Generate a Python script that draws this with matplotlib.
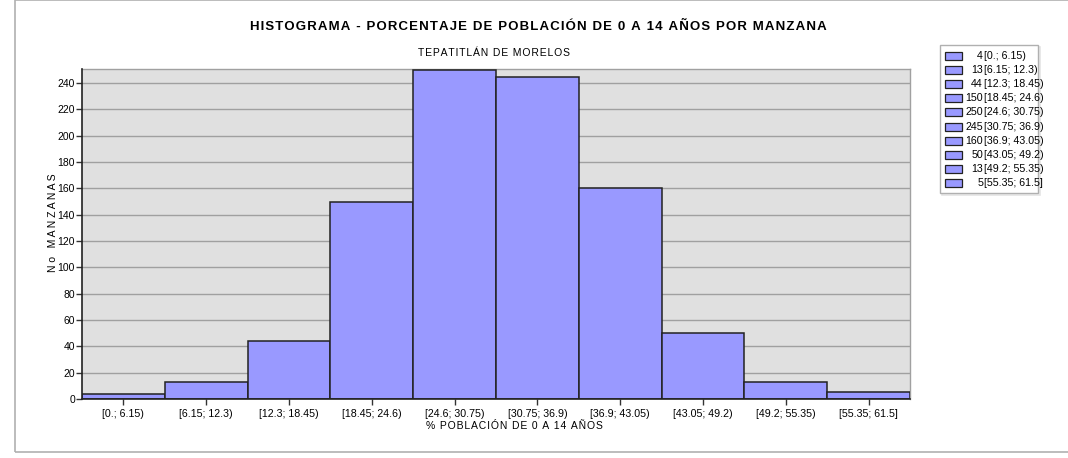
import matplotlib
matplotlib.use("Agg")
import matplotlib.pyplot as plt
from matplotlib.patches import Rectangle
import numpy as np

plt.rcParams['font.family'] = ['Liberation Sans', 'DejaVu Sans']

# ---- data ----
bin_edges = [0.0, 6.15, 12.3, 18.45, 24.6, 30.75, 36.9, 43.05, 49.2, 55.35, 61.5]
counts = [4, 13, 44, 150, 250, 245, 160, 50, 13, 5]
tick_labels = ["[0.; 6.15)", "[6.15; 12.3)", "[12.3; 18.45)", "[18.45; 24.6)",
               "[24.6; 30.75)", "[30.75; 36.9)", "[36.9; 43.05)", "[43.05; 49.2)",
               "[49.2; 55.35)", "[55.35; 61.5]"]
yticks = [0, 20, 40, 60, 80, 100, 120, 140, 160, 180, 200, 220, 240]

title = "HISTOGRAMA - PORCENTAJE DE POBLACIÓN DE 0 A 14 AÑOS POR MANZANA"
subtitle = "TEPATITLÁN DE MORELOS"
xlabel = "% POBLACIÓN DE 0 A 14 AÑOS"
ylabel = "No MANZANAS"

BAR = "#9999FF"
BG = "#E0E0E0"
GRID = "#A0A0A0"

def spaced(s, sep="\u200a"):
    return sep.join(s)

W, H = 1068, 458
fig = plt.figure(figsize=(W / 100, H / 100), dpi=100)

# outer frame
fig.patches.append(Rectangle((15 / W, 1 - 452 / H), 1.2, 452 / H - 0.001,
                             transform=fig.transFigure, fill=False,
                             edgecolor="#B0B0B0", lw=1.2, zorder=0))

ax = fig.add_axes([82 / W, 1 - 399 / H, (910 - 82) / W, (399 - 69) / H])
ax.set_facecolor(BG)

lefts = np.array(bin_edges[:-1])
widths = np.diff(bin_edges)
ax.bar(lefts, counts, width=widths, align="edge", color=BAR,
       edgecolor="#222222", linewidth=1.1, zorder=3)

ax.set_xlim(bin_edges[0], bin_edges[-1])
ax.set_ylim(0, 250.7)
ax.set_yticks(yticks)
ax.set_yticklabels([str(v) for v in yticks], fontsize=7.5)
centers = lefts + widths / 2
ax.set_xticks(centers)
ax.set_xticklabels(tick_labels, fontsize=7.7)
ax.tick_params(axis="both", direction="out", length=4, width=1, color="#333333")
ax.tick_params(axis="y", pad=1)
ax.tick_params(axis="x", pad=3)
ax.yaxis.grid(True, color=GRID, linewidth=1, zorder=1)
ax.set_axisbelow(True)
for side in ["top", "right"]:
    ax.spines[side].set_color(GRID)
    ax.spines[side].set_linewidth(1)
for side in ["left", "bottom"]:
    ax.spines[side].set_color("#222222")
    ax.spines[side].set_linewidth(1.2)
    ax.spines[side].set_zorder(5)

fig.text(538 / W, 1 - 27 / H, spaced(title), ha="center", va="center",
         fontsize=9.5, fontweight="bold")
fig.text(494 / W, 1 - 53 / H, spaced(subtitle), ha="center", va="center",
         fontsize=7.5)
fig.text(514 / W, 1 - 426 / H, spaced(xlabel), ha="center", va="center",
         fontsize=7.5)
fig.text(53 / W, 1 - 223 / H, spaced(ylabel, " "), ha="center", va="center",
         fontsize=7.5, rotation=90)

# legend (manual)
lx0, ly0, lx1, ly1 = 940, 45, 1038, 193
lax = fig.add_axes([0, 0, 1, 1], facecolor="none")
lax.set_xlim(0, W)
lax.set_ylim(H, 0)
lax.axis("off")
lax.add_patch(Rectangle((lx0 + 1.5, ly0 + 1.5), lx1 - lx0, ly1 - ly0,
                        facecolor="none", edgecolor="#E4E4E4", lw=1.2))
lax.add_patch(Rectangle((lx0, ly0), lx1 - lx0, ly1 - ly0,
                        facecolor="white", edgecolor="#B0B0B0", lw=1))
for i, c in enumerate(counts):
    yc = 55.7 + i * 14.18
    lax.add_patch(Rectangle((945, yc - 4), 16.5, 8, facecolor=BAR,
                            edgecolor="#222222", lw=0.9))
    lax.text(983, yc, str(c), ha="right", va="center", fontsize=7.7)
    lax.text(983.5, yc, tick_labels[i], ha="left", va="center", fontsize=7.7)

fig.savefig("out.png", dpi=100)
